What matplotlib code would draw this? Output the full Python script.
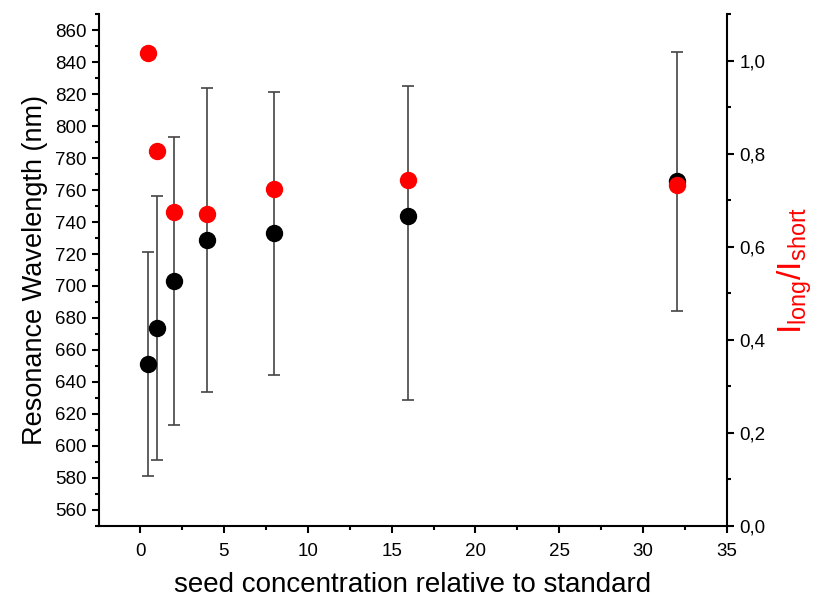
import matplotlib.pyplot as plt
import matplotlib.ticker as ticker

plt.rcParams['font.family'] = ['Liberation Sans', 'DejaVu Sans']
plt.rcParams['mathtext.fontset'] = 'custom'
plt.rcParams['mathtext.rm'] = 'Liberation Sans'
plt.rcParams['mathtext.it'] = 'Liberation Sans'

# seed concentration (relative to standard)
seed = [0.5, 1, 2, 4, 8, 16, 32]
# resonance wavelength (nm) and its lower / upper error
wavelength = [651, 674, 703, 729, 733, 744, 765.5]
err_low = [70, 82.5, 90, 95, 88.5, 115, 81]
err_high = [70, 82.5, 90, 95, 88.5, 81, 81]
# intensity ratio I_long / I_short
ratio = [1.016, 0.805, 0.675, 0.671, 0.725, 0.744, 0.732]


def comma(x, pos):
    return f'{x:.1f}'.replace('.', ',')


fig = plt.figure(figsize=(8.15, 5.99), dpi=100)
ax = fig.add_axes([0.1215, 0.1219, 0.7705, 0.8547])
ax2 = ax.twinx()

ax.errorbar(seed, wavelength, yerr=[err_low, err_high], fmt='o', color='black', ms=11.5,
            ecolor='#444444', elinewidth=1.2, capsize=4.5, capthick=1.2, zorder=3)
ax2.plot(seed, ratio, 'o', color='#ff0000', ms=11.5, zorder=4)

ax.set_xlim(-2.45, 35)
ax.set_ylim(550, 870)
ax2.set_ylim(0, 1.1)

ax.xaxis.set_major_locator(ticker.MultipleLocator(5))
ax.xaxis.set_minor_locator(ticker.MultipleLocator(2.5))
ax.yaxis.set_major_locator(ticker.MultipleLocator(20))
ax.yaxis.set_minor_locator(ticker.MultipleLocator(10))
ax2.yaxis.set_major_locator(ticker.MultipleLocator(0.2))
ax2.yaxis.set_minor_locator(ticker.MultipleLocator(0.1))
ax2.yaxis.set_major_formatter(ticker.FuncFormatter(comma))

for a in (ax, ax2):
    a.spines['top'].set_visible(False)
    for s in a.spines.values():
        s.set_linewidth(1.5)
    a.tick_params(which='major', direction='out', length=5, width=1.5, labelsize=13.5, pad=4)
    a.tick_params(which='minor', direction='out', length=3, width=1.5)
ax.tick_params(axis='x', which='major', pad=7)
ax.spines['right'].set_visible(False)
ax2.spines['left'].set_visible(False)
ax2.spines['bottom'].set_visible(False)

ax.set_xlabel('seed concentration relative to standard', fontsize=20, labelpad=9)
ax.set_ylabel('Resonance Wavelength (nm)', fontsize=19.5, labelpad=5)
ax2.set_ylabel(r'$\mathregular{I_{long}/I_{short}}$', color='#ff0000', fontsize=24,
               labelpad=7)

fig.savefig('out.png', dpi=100)
